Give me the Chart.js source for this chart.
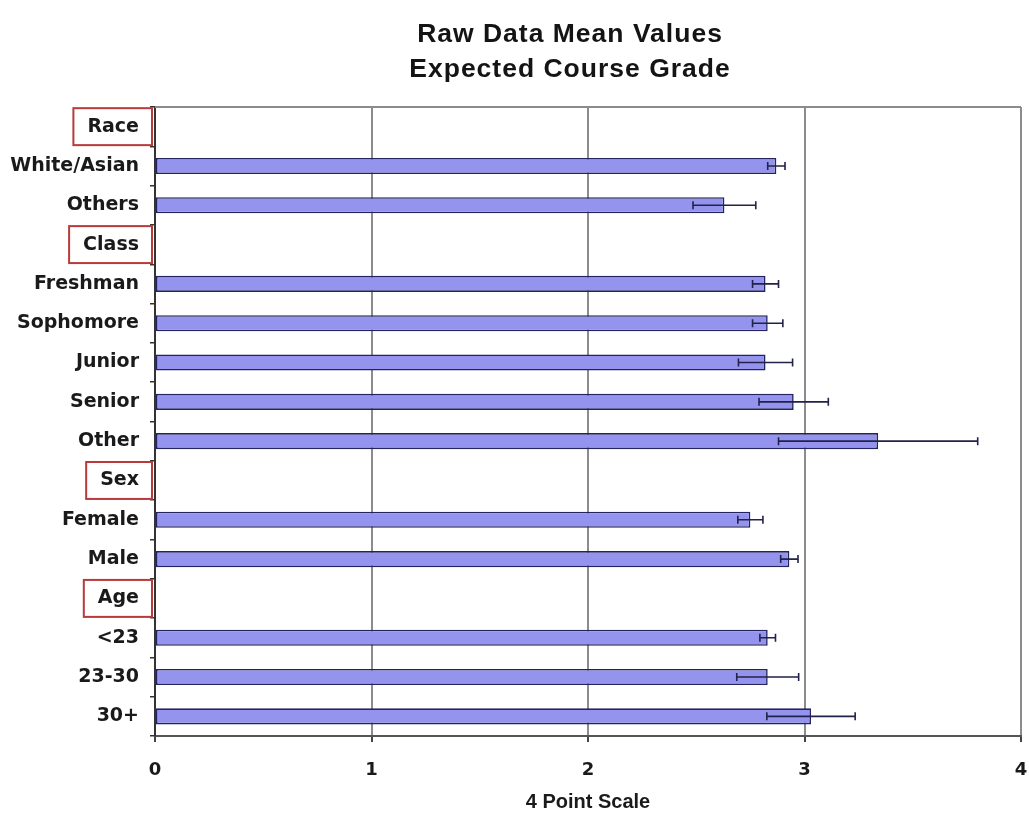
<!DOCTYPE html>
<html>
<head>
<meta charset="utf-8">
<script src="https://cdn.jsdelivr.net/npm/chart.js@4"></script>
<style>
  html, body { margin: 0; padding: 0; background: #ffffff; }
  #wrap { width: 1029px; height: 813px; }
</style>
</head>
<body>
<div id="wrap"><canvas id="c" width="1029" height="813"></canvas></div>
<script>
const categories = ['Race','White/Asian','Others','Class','Freshman','Sophomore','Junior','Senior','Other','Sex','Female','Male','Age','<23','23-30','30+'];
const means  = [null, 2.87, 2.63, null, 2.82, 2.83, 2.82, 2.95, 3.34, null, 2.75, 2.93, null, 2.83, 2.83, 3.03];
const errors = [null, 0.04, 0.145, null, 0.06, 0.07, 0.125, 0.16, 0.46, null, 0.058, 0.04, null, 0.036, 0.143, 0.204];
const headers = ['Race','Class','Sex','Age'];
const xTicks = [0, 1, 2, 3, 4];
const titleLines = ['Raw Data Mean Values', 'Expected Course Grade'];
const xAxisTitle = '4 Point Scale';

const LABEL_FONT = 'bold 19px "DejaVu Sans"';
const Y_TICK_LEN = 5, Y_TICK_PAD = 11;

const errorBarPlugin = {
  id: 'errorBars',
  afterDatasetsDraw(chart) {
    const ctx = chart.ctx;
    const xs = chart.scales.x;
    const meta = chart.getDatasetMeta(0);
    ctx.save();
    meta.data.forEach((bar, i) => {
      if (means[i] == null || errors[i] == null) return;
      const lo = xs.getPixelForValue(means[i] - errors[i]);
      const hi = xs.getPixelForValue(means[i] + errors[i]);
      const y = bar.y;
      ctx.strokeStyle = '#22224a';
      ctx.lineWidth = 1.6;
      ctx.beginPath();
      ctx.moveTo(lo, y); ctx.lineTo(hi, y);
      ctx.moveTo(lo, y - 4); ctx.lineTo(lo, y + 4);
      ctx.moveTo(hi, y - 4); ctx.lineTo(hi, y + 4);
      ctx.stroke();
    });
    ctx.restore();
  }
};

const decorPlugin = {
  id: 'decor',
  beforeDatasetsDraw(chart) {
    const {ctx, chartArea} = chart;
    ctx.save();
    ctx.strokeStyle = '#8c8c8c';
    ctx.lineWidth = 2;
    ctx.beginPath();
    ctx.moveTo(chartArea.left, chartArea.top);
    ctx.lineTo(chartArea.right, chartArea.top);
    ctx.stroke();
    ctx.restore();
  },
  afterDraw(chart) {
    const {ctx, chartArea} = chart;
    const ys = chart.scales.y;
    ctx.save();
    // header boxes
    ctx.font = LABEL_FONT;
    const textRight = ys.right - Y_TICK_LEN - Y_TICK_PAD;
    const step = ys.getPixelForValue(1) - ys.getPixelForValue(0);
    headers.forEach(h => {
      const idx = categories.indexOf(h);
      const yc = ys.getPixelForValue(idx);
      const w = ctx.measureText(h).width;
      const left = textRight - w - 14;
      const right = textRight + 13;
      const half = step * 0.47;
      ctx.strokeStyle = '#b83a3a';
      ctx.lineWidth = 2;
      ctx.strokeRect(left, yc - half, right - left, half * 2);
    });
    // title
    ctx.fillStyle = '#141414';
    ctx.font = 'bold 26.5px "Liberation Sans", Arial, sans-serif';
    try { ctx.letterSpacing = '1px'; } catch (e) {}
    ctx.textAlign = 'center';
    ctx.textBaseline = 'alphabetic';
    const cx = (chartArea.left + chartArea.right) / 2 - 18;
    ctx.fillText(titleLines[0], cx, chartArea.top - 65);
    ctx.fillText(titleLines[1], cx, chartArea.top - 30);
    ctx.restore();
  }
};

new Chart(document.getElementById('c'), {
  type: 'bar',
  data: {
    labels: categories,
    datasets: [{
      data: means,
      backgroundColor: '#9494ee',
      borderColor: '#232360',
      borderWidth: 1.6,
      borderSkipped: false,
      categoryPercentage: 1.0,
      barPercentage: 0.41
    }]
  },
  options: {
    indexAxis: 'y',
    responsive: false,
    animation: false,
    devicePixelRatio: 1,
    layout: { padding: { top: 107, right: 8, left: 0, bottom: 0 } },
    plugins: {
      legend: { display: false },
      title: { display: false },
      tooltip: { enabled: false }
    },
    scales: {
      x: {
        min: 0, max: 4,
        afterBuildTicks(scale) { scale.ticks = xTicks.map(v => ({ value: v })); },
        afterFit(scale) { scale.height = 77; scale.paddingRight = 0; scale.paddingLeft = 0; },
        grid: { color: '#8c8c8c', lineWidth: 2, tickLength: 6, tickColor: '#444', drawTicks: true },
        border: { display: true, color: '#555', width: 2 },
        ticks: {
          color: '#1a1a1a',
          font: { family: 'DejaVu Sans', size: 18, weight: 'bold' },
          padding: 18
        },
        title: {
          display: true,
          text: xAxisTitle,
          color: '#1a1a1a',
          font: { family: 'Liberation Sans', size: 20, weight: 'bold', lineHeight: 1.1 },
          padding: { top: 0, bottom: 0 }
        }
      },
      y: {
        afterFit(scale) { scale.width = 155; },
        grid: { display: true, drawOnChartArea: false, offset: true, tickLength: Y_TICK_LEN, color: '#333', lineWidth: 1.5 },
        border: { display: true, color: '#333', width: 2 },
        ticks: {
          color: '#1a1a1a',
          font: { family: 'DejaVu Sans', size: 19, weight: 'bold' },
          padding: Y_TICK_PAD,
          autoSkip: false
        }
      }
    }
  },
  plugins: [decorPlugin, errorBarPlugin]
});
</script>
</body>
</html>
